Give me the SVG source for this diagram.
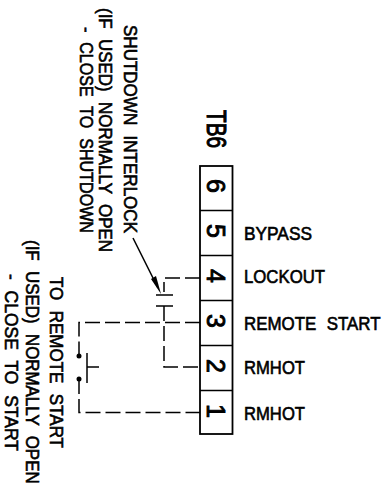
<svg xmlns="http://www.w3.org/2000/svg" width="387" height="486" viewBox="0 0 387 486">
<style>
text{font-family:"Liberation Sans",Arial,sans-serif;font-size:18px;fill:#000;stroke:#000;stroke-width:.6;word-spacing:6px}
.n{font-size:25px;stroke-width:.9}
.l{fill:none;stroke:#000;stroke-width:1.5}
.d{fill:none;stroke:#000;stroke-width:1.5;stroke-dasharray:15 5}
</style>
<rect width="387" height="486" fill="#fff"/>
<g id="tb6-title"><text transform="translate(207,110) rotate(90)" textLength="38" lengthAdjust="spacingAndGlyphs" style="font-size:27px;stroke-width:1">TB6</text></g>
<g id="terminal-block"><rect x="200" y="166" width="32.500" height="268" fill="#fff" stroke="#000" stroke-width="1.8"/><path class="l" d="M200 210.500H232M200 255.500H232M200 300.500H232M200 345.500H232M200 390.500H232"/></g>
<g id="t6"><text class="n" transform="translate(207,179) rotate(90)">6</text></g>
<g id="t5"><text class="n" transform="translate(207,224) rotate(90)">5</text></g>
<g id="t4"><text class="n" transform="translate(207,269) rotate(90)">4</text></g>
<g id="t3"><text class="n" transform="translate(207,314) rotate(90)">3</text></g>
<g id="t2"><text class="n" transform="translate(207,359) rotate(90)">2</text></g>
<g id="t1"><text class="n" transform="translate(207,404) rotate(90)">1</text></g>
<g id="labels">
<text x="244" y="240" textLength="68" lengthAdjust="spacingAndGlyphs">BYPASS</text>
<text x="244" y="283" textLength="81" lengthAdjust="spacingAndGlyphs">LOCKOUT</text>
<text transform="translate(244,330) scale(.94,1)">REMOTE START</text>
<text x="244" y="374" textLength="61" lengthAdjust="spacingAndGlyphs">RMHOT</text>
<text x="244" y="420" textLength="61" lengthAdjust="spacingAndGlyphs">RMHOT</text>
</g>
<g id="note-shutdown">
<text transform="translate(124,25) rotate(90)" textLength="208" lengthAdjust="spacingAndGlyphs">SHUTDOWN INTERLOCK</text>
<text transform="translate(99,8) rotate(90)" textLength="244" lengthAdjust="spacingAndGlyphs">(IF USED) NORMALLY OPEN</text>
<text transform="translate(80,27) rotate(90)" textLength="206" lengthAdjust="spacingAndGlyphs">- CLOSE TO SHUTDOWN</text>
</g>
<g id="note-start">
<text transform="translate(50,277) rotate(90)" textLength="171" lengthAdjust="spacingAndGlyphs">TO REMOTE START</text>
<text transform="translate(26,240) rotate(90) scale(.94,1)">(IF USED) NORMALLY OPEN</text>
<text transform="translate(5,274) rotate(90)" textLength="177" lengthAdjust="spacingAndGlyphs">- CLOSE TO START</text>
</g>
<g id="connectors">
<path class="d" d="M200 278H164V292"/>
<path class="d" d="M164 306V367H200"/>
<path class="d" d="M200 322.500H79V356"/>
<path class="d" d="M79 379V412.500H200"/>
<path class="l" d="M156 295H173M156 306H173M87 353V383M87 367H99"/>
<circle cx="79" cy="356" r="2.500"/><circle cx="79" cy="379" r="2.500"/>
<path class="l" d="M133 238L158 288"/>
<path d="M161 294L151 279L156 276Z"/>
</g>
</svg>
